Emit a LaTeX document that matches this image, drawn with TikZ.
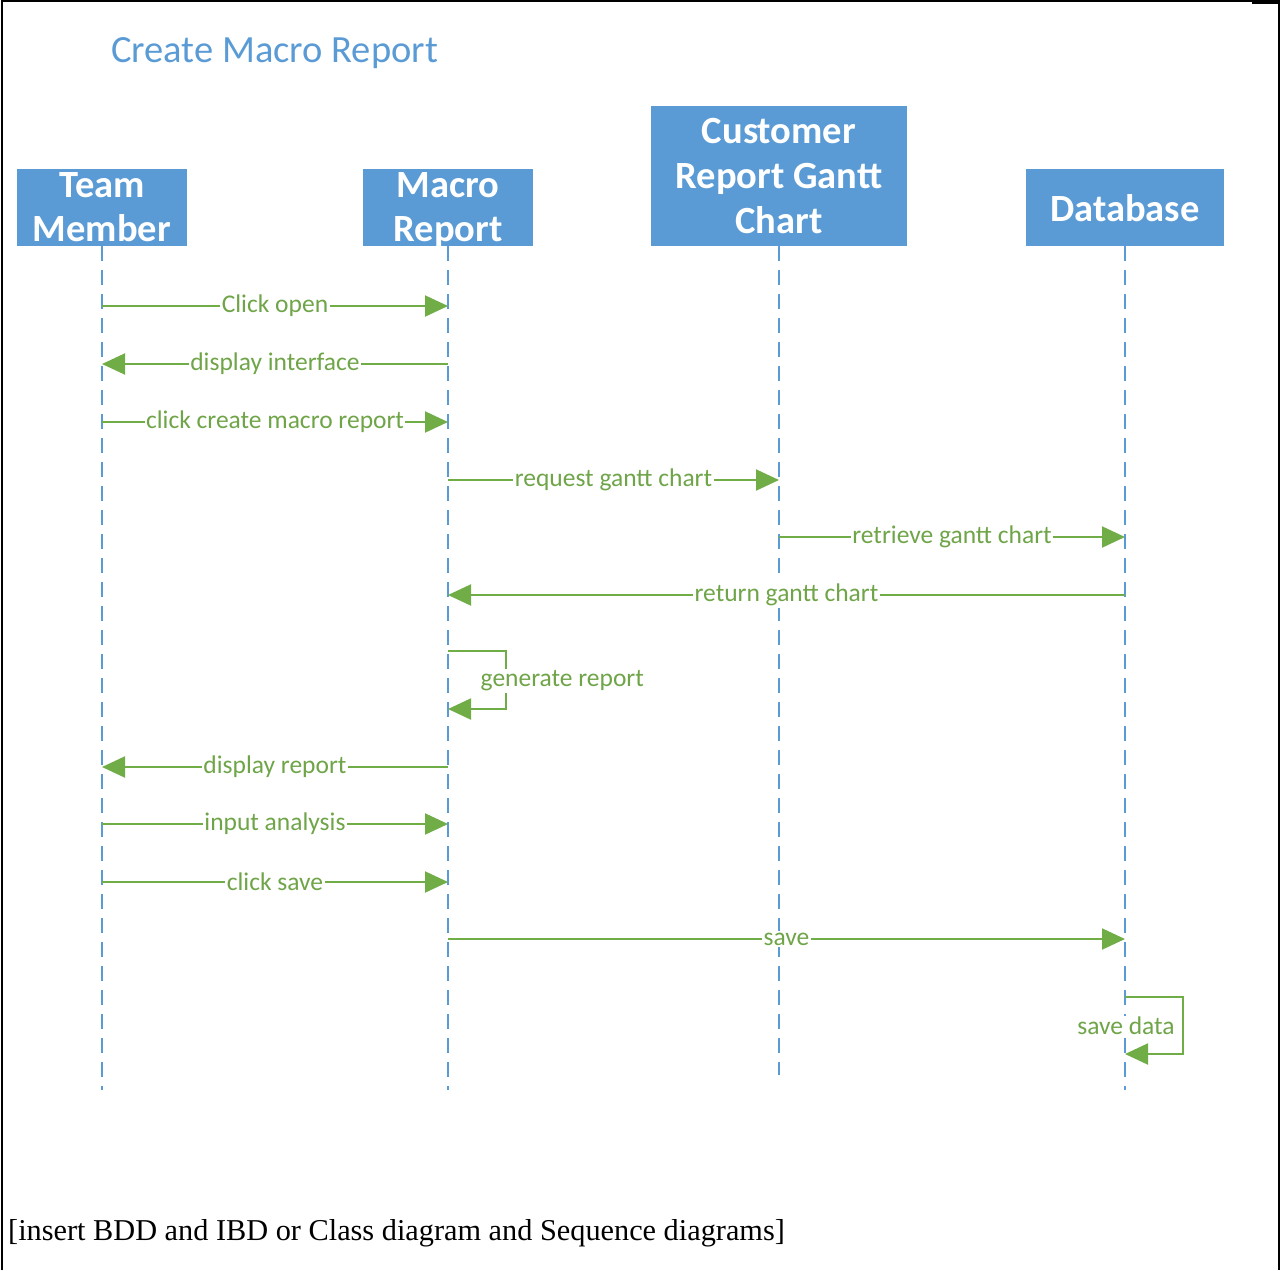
\documentclass[tikz,border=0pt]{standalone}
\usepackage{fontspec}
\setmainfont{Carlito}
\newfontfamily\serifbody{Liberation Serif}
\usetikzlibrary{arrows.meta}
\definecolor{hdr}{HTML}{5B9BD5}
\definecolor{msgc}{HTML}{70AD47}
\definecolor{msgt}{HTML}{6FA548}
\begin{document}
\begin{tikzpicture}[x=1pt,y=-1pt,
  lifebox/.style={fill=hdr, text=white, font=\bfseries\fontsize{38.5}{44}\selectfont, align=center, inner sep=0pt, text depth=0pt},
  lifeline/.style={hdr, line width=2.5pt, dash pattern=on 15pt off 9pt},
  msg/.style={msgc, line width=2pt, -{Triangle[length=23pt,width=21pt]}},
  lbl/.style={fill=white, text=msgt, font=\fontsize{25.5}{28}\selectfont, inner sep=1.5pt}]
\useasboundingbox (0,0) rectangle (1280,1270);
% border
\draw[line width=2pt] (2,1270) -- (2,1) -- (1252,1);
\fill (1252,0) rectangle (1280,3.5);
\draw[line width=2pt] (1279,0) -- (1279,1270);
% title
\node[anchor=base west, text=hdr, font=\fontsize{38.5}{44}\selectfont, inner sep=0pt] (title) at (111,62) {Create Macro Report};
% lifeline heads
\node[lifebox, minimum width=170pt, minimum height=77pt] (TM) at (102,207.5) {Team\\Member};
\node[lifebox, minimum width=170pt, minimum height=77pt] (MR) at (448,207.5) {Macro\\Report};
\node[lifebox, minimum width=256pt, minimum height=140pt, font=\bfseries\fontsize{38.5}{45}\selectfont] (CG) at (779,176) {Customer\\Report Gantt\\Chart};
\node[lifebox, minimum width=198pt, minimum height=77pt] (DB) at (1125,207.5) {Database};
% lifelines
\coordinate (TMe) at (102,1090);
\coordinate (MRe) at (448,1090);
\coordinate (CGe) at (779,1075);
\coordinate (DBe) at (1125,1090);
\draw[lifeline] (TM.south) -- (TMe);
\draw[lifeline] (MR.south) -- (MRe);
\draw[lifeline] (CG.south) -- (CGe);
\draw[lifeline] (DB.south) -- (DBe);
% rows
\coordinate (r1) at (0,306);
\coordinate (r2) at (0,364);
\coordinate (r3) at (0,422);
\coordinate (r4) at (0,480);
\coordinate (r5) at (0,537);
\coordinate (r6) at (0,595);
\coordinate (r8) at (0,767);
\coordinate (r9) at (0,824);
\coordinate (r10) at (0,882);
\coordinate (r11) at (0,939);
% messages
\draw[msg] (TM |- r1) -- node[lbl]{Click open} (MR |- r1);
\draw[msg] (MR |- r2) -- node[lbl]{display interface} (TM |- r2);
\draw[msg] (TM |- r3) -- node[lbl]{click create macro report} (MR |- r3);
\draw[msg] (MR |- r4) -- node[lbl]{request gantt chart} (CG |- r4);
\draw[msg] (CG |- r5) -- node[lbl]{retrieve gantt chart} (DB |- r5);
\draw[msg] (DB |- r6) -- node[lbl]{return gantt chart} (MR |- r6);
% self: generate report
\coordinate (g1) at (506,651);
\coordinate (g2) at (506,709);
\draw[msg] (MR |- g1) -- (g1) -- (g2) -- (MR |- g2);
\node[lbl, anchor=west] (glbl) at (479,681) {generate report};
\draw[msg] (MR |- r8) -- node[lbl]{display report} (TM |- r8);
\draw[msg] (TM |- r9) -- node[lbl]{input analysis} (MR |- r9);
\draw[msg] (TM |- r10) -- node[lbl]{click save} (MR |- r10);
\draw[msg] (MR |- r11) -- node[lbl]{save} (DB |- r11);
% self: save data
\coordinate (s1) at (1183,997);
\coordinate (s2) at (1183,1054);
\draw[msg] (DB |- s1) -- (s1) -- (s2) -- (DB |- s2);
\node[lbl] (slbl) at (1126,1026) {save data};
% note
\node[anchor=base west, font=\serifbody\fontsize{30.3}{34}\selectfont, inner sep=0pt] (note) at (8,1240) {[insert BDD and IBD or Class diagram and Sequence diagrams]};
\end{tikzpicture}
\end{document}
